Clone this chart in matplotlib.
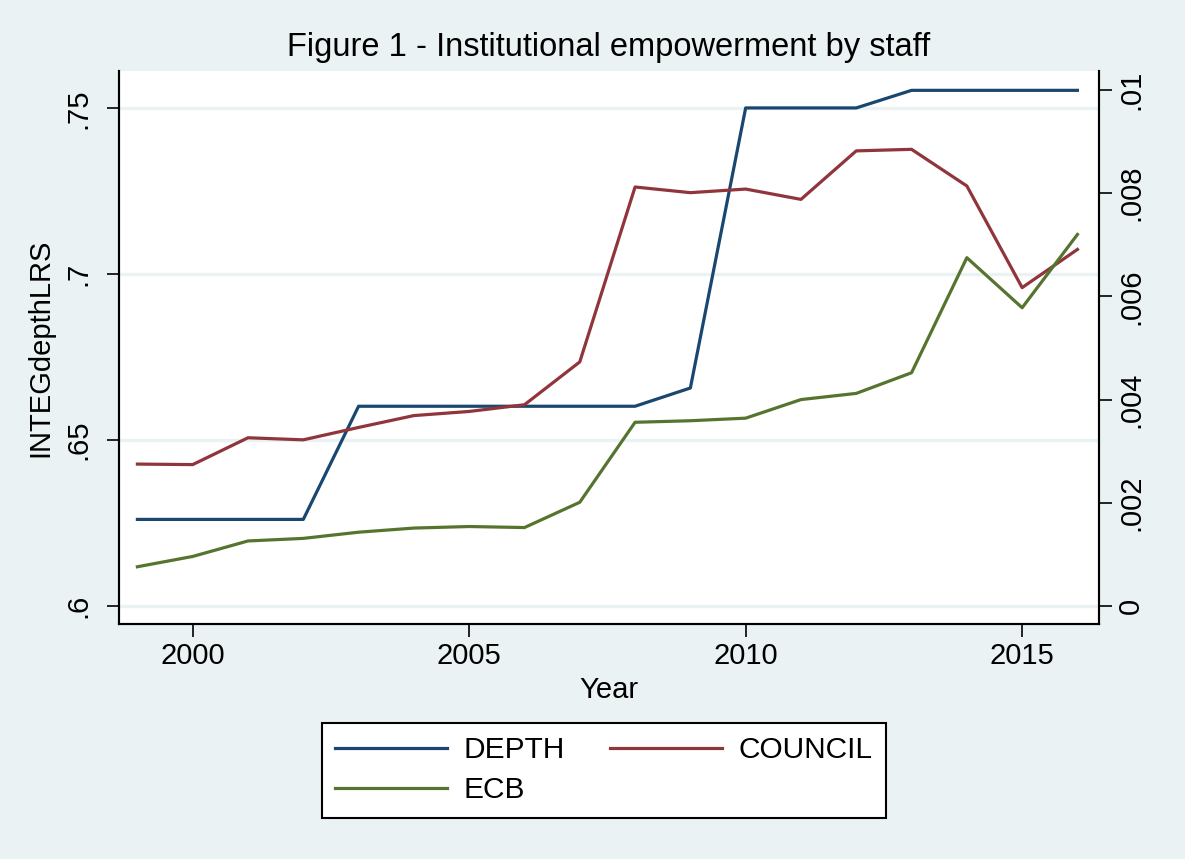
import matplotlib
matplotlib.use("Agg")
import matplotlib.pyplot as plt

years = list(range(1999, 2017))
depth = [0.6261, 0.6261, 0.6261, 0.6261, 0.6602, 0.6602, 0.6602, 0.6602, 0.6602, 0.6602,
         0.6657, 0.7501, 0.7501, 0.7501, 0.7554, 0.7554, 0.7554, 0.7554]
council = [0.00275, 0.00274, 0.00326, 0.00322, 0.00346, 0.00369, 0.00377, 0.00390, 0.00473, 0.00812,
           0.00801, 0.00808, 0.00788, 0.00882, 0.00885, 0.00814, 0.00617, 0.00691]
ecb = [0.00076, 0.00096, 0.00126, 0.00131, 0.00143, 0.00151, 0.00154, 0.00152, 0.00201, 0.00356,
       0.00359, 0.00364, 0.00400, 0.00412, 0.00452, 0.00675, 0.00578, 0.00720]
x_ticks = [2000, 2005, 2010, 2015]
left_ticks = [0.6, 0.65, 0.7, 0.75]
left_labels = [".6", ".65", ".7", ".75"]
right_ticks = [0, 0.002, 0.004, 0.006, 0.008, 0.01]
right_labels = ["0", ".002", ".004", ".006", ".008", ".01"]

BG = "#EAF2F3"
NAVY = "#1A476F"
MAROON = "#90353B"
GREEN = "#55752F"
FONT = "Liberation Sans"
plt.rcParams['font.family'] = [FONT, 'DejaVu Sans']

W, H = 1185, 859
fig = plt.figure(figsize=(W / 100, H / 100), dpi=100, facecolor=BG)
L, R, T, B = 118.6, 1099, 71, 624.3
ax = fig.add_axes([L / W, 1 - B / H, (R - L) / W, (B - T) / H])
ax.set_facecolor("white")
ax2 = ax.twinx()

ax.set_xlim(1998.66, 2016.39)
ax.set_ylim(0.59449, 0.76123)
ax2.set_ylim(-0.000355, 0.010368)

for yv in left_ticks:
    ax.axhline(yv, color=BG, lw=2.4, zorder=0.5)

l1, = ax.plot(years, depth, color=NAVY, lw=2.3, label="DEPTH", zorder=3)
l2, = ax2.plot(years, council, color=MAROON, lw=2.3, label="COUNCIL", zorder=3)
l3, = ax2.plot(years, ecb, color=GREEN, lw=2.3, label="ECB", zorder=3)

for a in (ax, ax2):
    a.spines['top'].set_visible(False)
    for s in ('left', 'right', 'bottom'):
        a.spines[s].set_linewidth(1.5)
        a.spines[s].set_color("black")

ax.set_xticks(x_ticks)
ax.set_xticklabels([str(v) for v in x_ticks])
ax.set_yticks(left_ticks)
ax.set_yticklabels(left_labels, rotation=90, va="center")
ax2.set_yticks(right_ticks)
ax2.set_yticklabels(right_labels, rotation=90, va="center")

ax.tick_params(axis='x', length=9, width=1.2, labelsize=21, pad=4)
ax.tick_params(axis='y', length=9, width=1.2, labelsize=21, pad=10)
ax2.tick_params(axis='y', length=9, width=1.2, labelsize=21, pad=4)

ax.set_xlabel("Year", fontsize=21, labelpad=4)
ax.set_ylabel("INTEGdepthLRS", fontsize=21, labelpad=7)
ax.set_title("Figure 1 - Institutional empowerment by staff", fontsize=23.5, pad=11)

leg = fig.legend([l1, l3, l2], ["DEPTH", "ECB", "COUNCIL"], ncol=2,
                 loc="upper left", bbox_to_anchor=(321.7 / W, 1 - 722.7 / H),
                 fontsize=21.5, frameon=True, fancybox=False, edgecolor="black",
                 facecolor="white", framealpha=1, handlelength=3.75, handletextpad=0.55,
                 columnspacing=1.5, labelspacing=0.4, borderpad=0.45, borderaxespad=0)
leg.get_frame().set_linewidth(1.5)

fig.savefig("out.png", dpi=100, facecolor=BG)
